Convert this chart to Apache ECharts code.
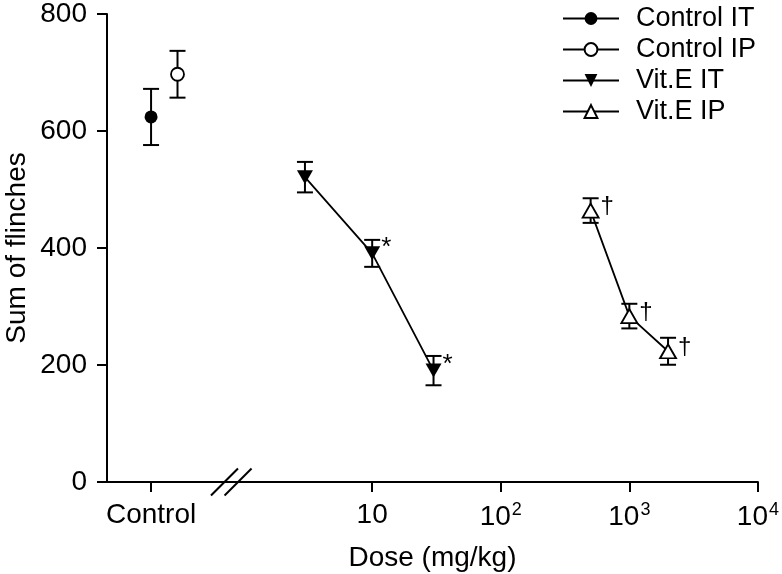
<!DOCTYPE html>
<html><head><meta charset="utf-8">
<script src="https://cdn.jsdelivr.net/npm/echarts@6/dist/echarts.min.js"></script>
<style>html,body{margin:0;padding:0;background:#fff}#c{width:782px;height:574px}</style>
</head><body><div id="c"></div>
<script>
const FONT = '"Liberation Sans", Arial, sans-serif';
// ---- data ----
const yTicks = [0, 200, 400, 600, 800];
const doseTicks = [10, 100, 1000, 10000];
const controlLabel = 'Control';
const controlTickPos = 0;
const controlItX = [0];
const controlItMean = [624];
const controlItErr = [48];
const controlIpX = [0.6];
const controlIpMean = [697];
const controlIpErr = [40];
const vitItDose = [3, 10, 30];
const vitItMean = [520, 390, 190];
const vitItErr = [26, 23, 25];
const vitItSig = ['', '*', '*'];
const vitIpDose = [500, 1000, 2000];
const vitIpMean = [463, 283, 223];
const vitIpErr = [21, 21, 23];
const vitIpSig = ['\u2020', '\u2020', '\u2020'];
const breakPos = 1.82;

const zip2 = (a, b) => a.map((v, i) => [v, b[i]]);
const zip3 = (a, b, c) => a.map((v, i) => [v, b[i], c[i]]);

function errRender(params, api) {
  const x = api.value(0), m = api.value(1), e = api.value(2);
  const top = api.coord([x, m + e]), bot = api.coord([x, m - e]);
  const w = 8;
  const style = { stroke: '#000', lineWidth: 2, fill: null };
  return { type: 'group', children: [
    { type: 'line', shape: { x1: top[0], y1: top[1], x2: bot[0], y2: bot[1] }, style },
    { type: 'line', shape: { x1: top[0] - w, y1: top[1], x2: top[0] + w, y2: top[1] }, style },
    { type: 'line', shape: { x1: bot[0] - w, y1: bot[1], x2: bot[0] + w, y2: bot[1] }, style }
  ]};
}

const lineSt = { color: '#000', width: 2 };
const labelStyle = { color: '#000', fontFamily: FONT, fontSize: 28 };
const downTri = 'path://M0,0 L10,0 L5,9 Z';

const chart = echarts.init(document.getElementById('c'), null, { renderer: 'canvas' });
const option = {
  animation: false,
  backgroundColor: '#fff',
  textStyle: { fontFamily: FONT },
  grid: [
    { left: 107, width: 136.6, top: 13, bottom: 92 },
    { left: 243.6, right: 23.3, top: 13, bottom: 92 }
  ],
  xAxis: [
    { gridIndex: 0, type: 'value', min: -1, max: 2.1,
      axisLine: { onZero: false, lineStyle: lineSt }, splitLine: { show: false },
      axisTick: { show: true, length: 10, lineStyle: lineSt, customValues: [controlTickPos] },
      axisLabel: { ...labelStyle, margin: 19, customValues: [controlTickPos], formatter: () => controlLabel } },
    { gridIndex: 1, type: 'log', logBase: 10, min: 1, max: 10000,
      axisLine: { onZero: false, lineStyle: lineSt }, splitLine: { show: false },
      axisTick: { show: true, length: 10, lineStyle: lineSt, customValues: doseTicks },
      axisLabel: { ...labelStyle, margin: 19, customValues: doseTicks,
        formatter: v => { const p = Math.round(Math.log10(v)); return p === 1 ? '10' : '10{sup|' + p + '}'; },
        rich: { sup: { fontSize: 18, fontFamily: FONT, color: '#000', verticalAlign: 'top', padding: [0, 0, 14, 1] } } } }
  ],
  yAxis: [
    { gridIndex: 0, type: 'value', min: 0, max: 800, interval: 200,
      name: 'Sum of flinches', nameLocation: 'middle', nameGap: 76,
      nameTextStyle: { ...labelStyle },
      axisLine: { show: true, onZero: false, lineStyle: lineSt }, splitLine: { show: false },
      axisTick: { show: true, length: 10, lineStyle: lineSt },
      axisLabel: { ...labelStyle, margin: 20 } },
    { gridIndex: 1, type: 'value', min: 0, max: 800, interval: 200, show: false }
  ],
  legend: {
    orient: 'vertical', left: 562, top: 5, padding: 0, itemGap: 4,
    itemWidth: 56, itemHeight: 16,
    textStyle: { ...labelStyle, fontSize: 27, padding: [0, 0, 0, 12] },
    data: ['Control IT', 'Control IP', 'Vit.E IT', 'Vit.E IP']
  },
  series: [
    { type: 'custom', xAxisIndex: 0, yAxisIndex: 0, renderItem: errRender, z: 1,
      data: zip3(controlItX, controlItMean, controlItErr), encode: { x: 0, y: 1 } },
    { type: 'custom', xAxisIndex: 0, yAxisIndex: 0, renderItem: errRender, z: 1,
      data: zip3(controlIpX, controlIpMean, controlIpErr), encode: { x: 0, y: 1 } },
    { type: 'custom', xAxisIndex: 1, yAxisIndex: 1, renderItem: errRender, z: 1,
      data: zip3(vitItDose, vitItMean, vitItErr), encode: { x: 0, y: 1 } },
    { type: 'custom', xAxisIndex: 1, yAxisIndex: 1, renderItem: errRender, z: 1,
      data: zip3(vitIpDose, vitIpMean, vitIpErr), encode: { x: 0, y: 1 } },
    { name: 'Control IT', type: 'line', xAxisIndex: 0, yAxisIndex: 0, z: 5,
      symbol: 'circle', symbolSize: 13,
      itemStyle: { color: '#000' }, lineStyle: { color: '#000', width: 2 },
      data: zip2(controlItX, controlItMean) },
    { name: 'Control IP', type: 'line', xAxisIndex: 0, yAxisIndex: 0, z: 5,
      symbol: 'circle', symbolSize: 13,
      itemStyle: { color: '#fff', borderColor: '#000', borderWidth: 1.8 }, lineStyle: { color: '#000', width: 2 },
      data: zip2(controlIpX, controlIpMean) },
    { name: 'Vit.E IT', type: 'line', xAxisIndex: 1, yAxisIndex: 1, z: 5,
      symbol: downTri, symbolSize: [16, 14], symbolKeepAspect: false,
      itemStyle: { color: '#000' }, lineStyle: { color: '#000', width: 1.8 },
      label: { show: true, position: 'right', distance: 1, offset: [0, -6], color: '#000', fontFamily: FONT, fontSize: 26,
        formatter: p => vitItSig[p.dataIndex] },
      data: zip2(vitItDose, vitItMean) },
    { name: 'Vit.E IP', type: 'line', xAxisIndex: 1, yAxisIndex: 1, z: 5,
      symbol: 'triangle', symbolSize: [16, 14],
      itemStyle: { color: '#fff', borderColor: '#000', borderWidth: 1.8 }, lineStyle: { color: '#000', width: 1.8 },
      label: { show: true, position: 'right', distance: 1, offset: [0, -4], color: '#000', fontFamily: FONT, fontSize: 24,
        formatter: p => vitIpSig[p.dataIndex] },
      data: zip2(vitIpDose, vitIpMean) }
  ]
};
chart.setOption(option);

// axis break marks and x-axis title, placed from axis coordinates
const b = chart.convertToPixel({ xAxisIndex: 0, yAxisIndex: 0 }, [breakPos, 0]);
const left0 = chart.convertToPixel({ xAxisIndex: 0, yAxisIndex: 0 }, [-1, 0]);
const right1 = chart.convertToPixel({ xAxisIndex: 1, yAxisIndex: 1 }, [10000, 0]);
const s = 13.5, d = 6.8;
chart.setOption({
  graphic: [
    { type: 'line', shape: { x1: b[0] - d - s, y1: b[1] + s, x2: b[0] - d + s, y2: b[1] - s }, style: { stroke: '#000', lineWidth: 2 }, z: 10 },
    { type: 'line', shape: { x1: b[0] + d - s, y1: b[1] + s, x2: b[0] + d + s, y2: b[1] - s }, style: { stroke: '#000', lineWidth: 2 }, z: 10 },
    { type: 'text', x: (left0[0] + right1[0]) / 2, y: b[1] + 76,
      style: { text: 'Dose (mg/kg)', fill: '#000', font: '28px ' + FONT, textAlign: 'center', textVerticalAlign: 'middle' } }
  ]
});
</script></body></html>
